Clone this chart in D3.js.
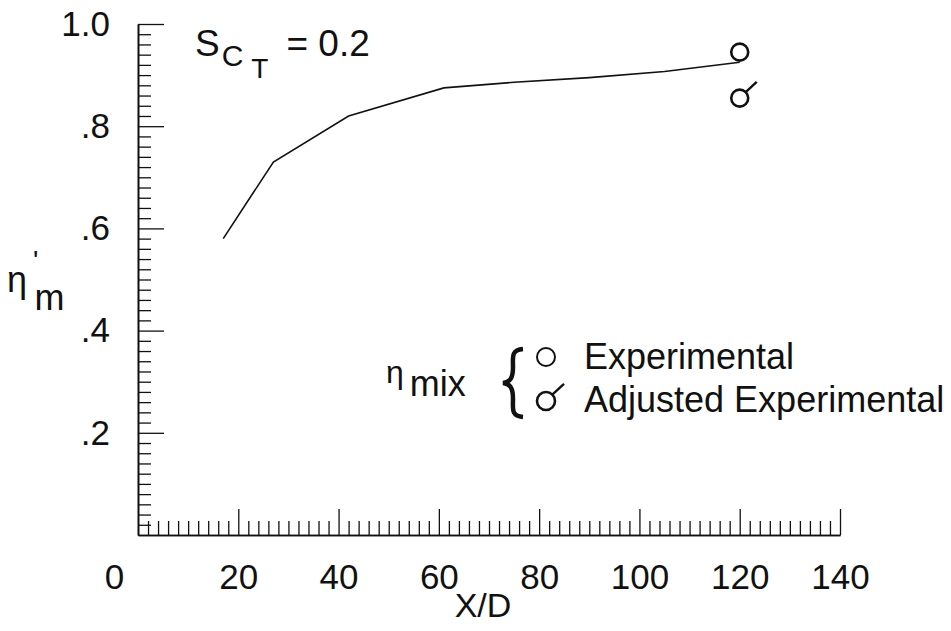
<!DOCTYPE html>
<html>
<head>
<meta charset="utf-8">
<script src="https://cdn.jsdelivr.net/npm/d3@7"></script>
<style>
  body { margin: 0; background: #fff; }
  svg text { font-family: "Liberation Sans", Arial, Helvetica, sans-serif; fill: #111; }
</style>
</head>
<body>
<div id="chart"></div>
<script>
// predicted curve, S_CT = 0.2
var curveX = [17, 27, 42, 61, 75, 90, 105, 120];
var curveY = [0.58, 0.73, 0.82, 0.875, 0.886, 0.895, 0.907, 0.925];

// experimental points at X/D = 120
var expX = [120];
var expY = [0.945];
var adjX = [120];
var adjY = [0.855];

var xMajor = [0, 20, 40, 60, 80, 100, 120, 140];
var yMajor = [0.2, 0.4, 0.6, 0.8, 1.0];
var yLabels = [".2", ".4", ".6", ".8", "1.0"];

var legendLabels = ["Experimental", "Adjusted Experimental"];

function init() {
    var w = 951;
    var h = 631;

    var svg = d3.select("#chart")
        .append("svg")
        .attr("width", w)
        .attr("height", h);

    var x = d3.scaleLinear().domain([0, 140]).range([138, 840]);
    var y = d3.scaleLinear().domain([0, 1]).range([535, 24]);

    var xMinor = d3.range(0, 141, 2).filter(function(d) { return d % 20 != 0; });
    var yMinor = d3.range(1, 50).map(function(d) { return d * 0.02; })
        .filter(function(d) { return Math.abs(d * 5 - Math.round(d * 5)) > 1e-6; });

    // x axis minor ticks
    svg.append("g")
        .attr("transform", "translate(0," + y(0) + ")")
        .call(d3.axisBottom(x).tickValues(xMinor).tickSize(-14).tickSizeOuter(0).tickFormat(""));
    // x axis major ticks + labels
    var gx = svg.append("g")
        .attr("transform", "translate(0," + y(0) + ")")
        .call(d3.axisBottom(x).tickValues(xMajor).tickSize(-26).tickSizeOuter(0).tickPadding(29)
            .tickFormat(function(d) { return d; }));
    gx.selectAll("text").attr("font-size", 35);
    gx.selectAll(".tick").filter(function(d) { return d == 0; }).select("text").attr("dx", -24);
    gx.selectAll(".tick").filter(function(d) { return d == 0; }).select("line").remove();

    // y axis minor ticks
    svg.append("g")
        .attr("transform", "translate(" + x(0) + ",0)")
        .call(d3.axisLeft(y).tickValues(yMinor).tickSize(-13).tickSizeOuter(0).tickFormat(""));
    // y axis major ticks + labels
    var gy = svg.append("g")
        .attr("transform", "translate(" + x(0) + ",0)")
        .call(d3.axisLeft(y).tickValues(yMajor).tickSize(-26).tickSizeOuter(0).tickPadding(28)
            .tickFormat(function(d, i) { return yLabels[i]; }));
    gy.selectAll("text").attr("font-size", 35);

    svg.selectAll(".domain").attr("stroke", "#111").attr("stroke-width", 1.6);
    svg.selectAll(".tick line").attr("stroke", "#111").attr("stroke-width", 1.3);
    svg.selectAll(".tick text").attr("fill", "#111");

    // axis titles
    svg.append("text").attr("x", 483).attr("y", 617).attr("text-anchor", "middle")
        .attr("font-size", 34).text("X/D");

    var yt = svg.append("text").attr("x", 7).attr("y", 292).attr("font-size", 36);
    yt.append("tspan").text("\u03B7");
    yt.append("tspan").attr("dx", 6).attr("dy", -22).attr("font-size", 28).text("'");
    yt.append("tspan").attr("dx", -4).attr("dy", 40).attr("font-size", 36).text("m");

    // S_CT = 0.2
    var st = svg.append("text").attr("x", 195).attr("y", 56).attr("font-size", 37);
    st.append("tspan").text("S");
    st.append("tspan").attr("dx", 2).attr("dy", 10).attr("font-size", 30).text("C");
    st.append("tspan").attr("dx", 8).attr("dy", 12).attr("font-size", 28).text("T");
    st.append("tspan").attr("dx", 18).attr("dy", -22).text("= 0.2");

    // predicted curve
    var line = d3.line()
        .x(function(d, i) { return x(curveX[i]); })
        .y(function(d) { return y(d); });
    svg.append("path")
        .datum(curveY)
        .attr("d", line)
        .attr("fill", "none")
        .attr("stroke", "#111")
        .attr("stroke-width", 1.6);

    // experimental circles
    svg.selectAll("circle.exp")
        .data(expY)
        .enter()
        .append("circle")
        .attr("class", "exp")
        .attr("cx", function(d, i) { return x(expX[i]); })
        .attr("cy", function(d) { return y(d); })
        .attr("r", 8.5)
        .attr("fill", "none")
        .attr("stroke", "#111")
        .attr("stroke-width", 2.6);

    // adjusted experimental (circle with flag)
    function flagged(g, cx, cy, r) {
        g.append("circle").attr("cx", cx).attr("cy", cy).attr("r", r)
            .attr("fill", "none").attr("stroke", "#111").attr("stroke-width", 2.6);
        g.append("line")
            .attr("x1", cx + r * 0.7).attr("y1", cy - r * 0.7)
            .attr("x2", cx + r * 2.0).attr("y2", cy - r * 1.9)
            .attr("stroke", "#111").attr("stroke-width", 2.4);
    }
    adjY.forEach(function(d, i) {
        flagged(svg.append("g"), x(adjX[i]), y(d), 8.5);
    });

    // legend
    var lt = svg.append("text").attr("x", 386).attr("y", 383).attr("font-size", 32);
    lt.append("tspan").text("\u03B7");
    lt.append("tspan").attr("dx", 6).attr("dy", 13).attr("font-size", 36).text("mix");

    svg.append("path")
        .attr("d", "M523,349 C511,350 513,357 513,367 C513,377 511,382 503,383 C511,384 513,389 513,399 C513,409 511,416 523,417")
        .attr("fill", "none")
        .attr("stroke", "#111")
        .attr("stroke-width", 4.5);

    svg.append("circle").attr("cx", 546).attr("cy", 357).attr("r", 9)
        .attr("fill", "none").attr("stroke", "#111").attr("stroke-width", 2);
    flagged(svg.append("g"), 546, 401, 9);

    svg.selectAll("text.leg")
        .data(legendLabels)
        .enter()
        .append("text")
        .attr("class", "leg")
        .attr("x", 584)
        .attr("y", function(d, i) { return 369 + i * 43; })
        .attr("font-size", 36)
        .text(function(d) { return d; });
}
window.onload = init;
</script>
</body>
</html>
